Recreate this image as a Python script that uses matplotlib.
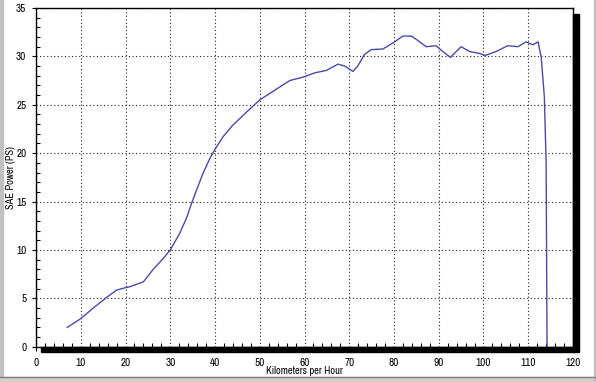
import matplotlib
matplotlib.use("Agg")
import matplotlib.pyplot as plt
from matplotlib.patches import Rectangle
from matplotlib.lines import Line2D
from matplotlib.ticker import MultipleLocator

speed_kmh = [7, 10, 12.8, 15.8, 18, 20, 21.0, 24.0, 26.2, 28.4, 30, 32.1, 33.6, 34.75,
             35.9, 37.3, 38.8, 40.0, 41.8, 44.0, 47.4, 50, 53, 56.7, 60, 62.3, 64.9,
             67.5, 69, 70.8, 71.9, 73.4, 74.9, 77.5, 79.8, 82, 83.9, 85.3, 87.2, 89.4,
             90.9, 92.6, 93.9, 95, 96.9, 99.1, 100.4, 102.8, 105.4, 107.7, 109.5, 111,
             112.2, 112.9, 113.6, 114.0, 114.2]
power_ps = [2.0, 2.9, 4.0, 5.1, 5.85, 6.1, 6.2, 6.7, 8.0, 9.1, 10, 11.7, 13.25, 14.8,
            16.2, 17.9, 19.4, 20.4, 21.7, 22.9, 24.4, 25.5, 26.4, 27.5, 27.9, 28.3,
            28.55, 29.2, 29.0, 28.45, 29.0, 30.2, 30.7, 30.76, 31.4, 32.1, 32.1, 31.65,
            31.0, 31.1, 30.5, 29.9, 30.5, 31.0, 30.5, 30.3, 30.1, 30.5, 31.1, 31.0,
            31.5, 31.2, 31.5, 29.9, 25.8, 19.0, 0.0]

x_ticks = list(range(0, 121, 10))
y_ticks = list(range(0, 36, 5))
x_label = "Kilometers per Hour"
y_label = "SAE Power (PS)"

plt.rcParams['font.family'] = ['Archivo Narrow', 'Liberation Sans Narrow', 'DejaVu Sans']

W, H = 596, 382
fig = plt.figure(figsize=(W / 100, H / 100), dpi=100)
fig.patch.set_facecolor('white')

L, R, T, B = 36, 573, 8, 346.7
ax = fig.add_axes([L / W, 1 - B / H, (R - L) / W, (B - T) / H])
ax.set_xlim(0, 120)
ax.set_ylim(0, 35)

ax.plot(speed_kmh, power_ps, color='#4a4aa8', lw=1.0, zorder=3)

ax.set_xticks(x_ticks)
ax.set_yticks(y_ticks)
ax.xaxis.set_minor_locator(MultipleLocator(2))
ax.yaxis.set_minor_locator(MultipleLocator(1))
ax.grid(True, which='major', color='#222222', linestyle=(0, (1, 2.2)), linewidth=0.8)
ax.tick_params(which='major', direction='out', length=3, width=0.8, labelsize=8,
               colors='black')
ax.tick_params(axis='x', which='major', pad=5)
ax.tick_params(axis='y', which='major', pad=4)
ax.tick_params(which='minor', direction='in', length=3, width=0.8, colors='black')
for s in ax.spines.values():
    s.set_color('black')
    s.set_linewidth(1.0)

ax.set_xlabel(x_label, fontsize=7.5, labelpad=-1)
ax.set_ylabel(y_label, fontsize=7.5, labelpad=0)
ax.yaxis.set_label_coords(-20 / (R - L), 0.5)

# drop shadow
aw, ah = R - L, B - T
ax.add_patch(Rectangle((5 / aw, -5.5 / ah), 1 + 1 / aw - 5 / aw, 5.5 / ah,
                       transform=ax.transAxes, color='black', clip_on=False, zorder=5))
ax.add_patch(Rectangle((1, -5.5 / ah), 6 / aw, 1 - 6 / ah + 5.5 / ah,
                       transform=ax.transAxes, color='black', clip_on=False, zorder=5))

# window frame
fig.add_artist(Rectangle((0, 0), 3 / W, 1, transform=fig.transFigure,
                         color='#c0c0c0', zorder=0))
fig.add_artist(Rectangle((0, 0), 1, 5 / H, transform=fig.transFigure,
                         color='#d4d0c8', zorder=0))
fig.add_artist(Line2D([0, 1], [5 / H, 5 / H], transform=fig.transFigure,
                      color='#808080', lw=1))
fig.add_artist(Rectangle((1 - 2 / W, 0), 2 / W, 1, transform=fig.transFigure,
                         color='#c0c0c0', zorder=0))

fig.savefig("out.png", dpi=100)
